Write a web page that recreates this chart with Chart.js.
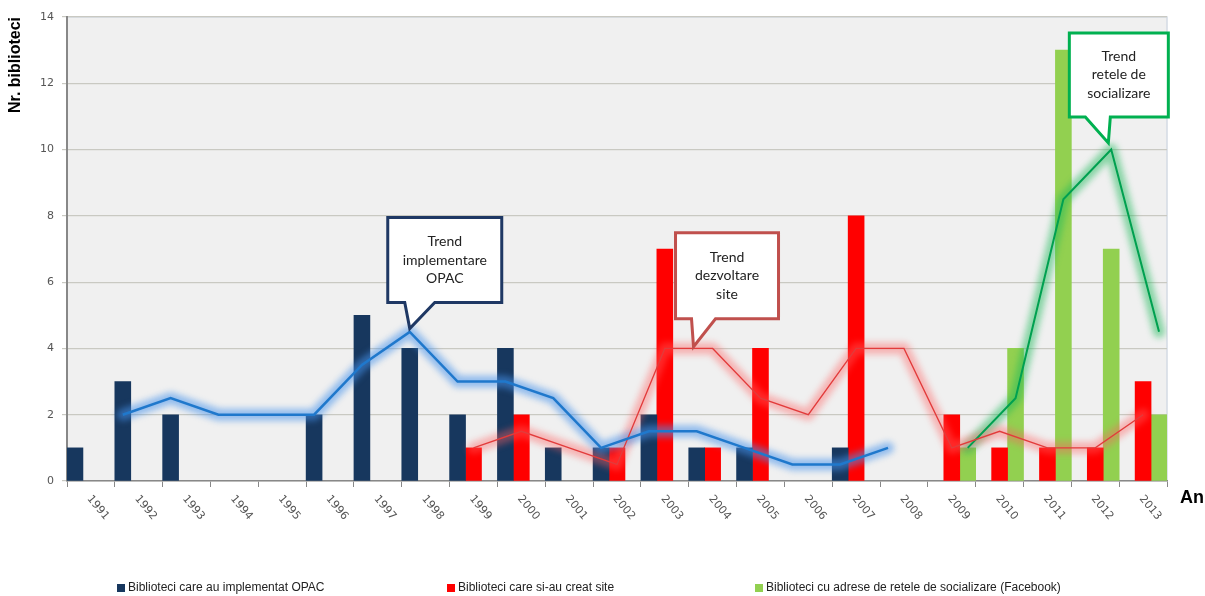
<!DOCTYPE html>
<html>
<head>
<meta charset="utf-8">
<script src="https://cdn.jsdelivr.net/npm/chart.js@4.4.1/dist/chart.umd.min.js"></script>
<style>
  html, body { margin: 0; padding: 0; background: #fff; }
  #wrap { width: 1205px; height: 596px; }
</style>
</head>
<body>
<div id="wrap"><canvas id="myChart" width="1205" height="596"></canvas></div>
<script>
// date (null = fara bara)
const years = ["1991","1992","1993","1994","1995","1996","1997","1998","1999","2000","2001","2002",
  "2003","2004","2005","2006","2007","2008","2009","2010","2011","2012","2013"];
const opac   = [1,3,2,null,null,2,5,4,2,4,1,1,2,1,1,null,1,null,null,null,null,null,null];
const site   = [null,null,null,null,null,null,null,null,1,2,null,1,7,1,4,null,8,null,2,1,1,1,3];
const social = [null,null,null,null,null,null,null,null,null,null,null,null,null,null,null,null,null,null,1,4,13,7,2];
// trend (medie mobila) citit de pe linii
const opacTrend   = [null,2,2.5,2,2,2,3.5,4.5,3,3,2.5,1,1.5,1.5,1,0.5,0.5,1,null,null,null,null,null];
const siteTrend   = [null,null,null,null,null,null,null,null,1,1.5,1,0.5,4,4,2.5,2,4,4,1,1.5,1,1,2];
const socialTrend = [null,null,null,null,null,null,null,null,null,null,null,null,null,null,null,null,null,null,1,2.5,8.5,10,4.5];
const yTicks = [0,2,4,6,8,10,12,14];
const legendLabels = ["Biblioteci care au implementat OPAC", "Biblioteci care si-au creat site",
  "Biblioteci cu adrese de retele de socializare (Facebook)"];
const calloutTexts = [["Trend","implementare","OPAC"], ["Trend","dezvoltare","site"], ["Trend","retele de","socializare"]];

const navy = "#17375E", red = "#FF0000", green = "#92D050";

// fiecare serie sta in treimea ei din categorie (stanga / mijloc / dreapta)
function points(arr, off) {
  const pts = [];
  arr.forEach((v, i) => { if (v !== null) pts.push({ x: i + off, y: v }); });
  return pts;
}

function barSet(label, data, color) {
  return { type: "bar", label: label, data: data, xAxisID: "x2", yAxisID: "y", backgroundColor: color, order: 10,
    grouped: false, categoryPercentage: 1, barPercentage: 1, borderWidth: 0 };
}
function glowSet(data, color) {
  return { type: "line", data: data, xAxisID: "x2", yAxisID: "y", borderColor: color, borderWidth: 12,
    pointRadius: 0, tension: 0, fill: false, order: 5, glow: true, borderJoinStyle: "round", borderCapStyle: "round" };
}
function lineSet(data, color, w) {
  return { type: "line", data: data, xAxisID: "x2", yAxisID: "y", borderColor: color, borderWidth: w,
    pointRadius: 0, tension: 0, fill: false, order: 1 };
}

const callouts = [
  { text: calloutTexts[0], tip: [7 - 1/3, 4.6], box: [-22, 92, -111, -26], base: [-5, 25], color: "#1F3864" },
  { text: calloutTexts[1], tip: [12.6, 4.05], box: [-18, 85, -114, -28], base: [-2, 22], color: "#C0504D" },
  { text: calloutTexts[2], tip: [21 + 1/3 - 0.06, 10.2], box: [-39, 60, -110, -26], base: [-23, 2], color: "#00B050" }
];

const decor = {
  id: "decor",
  beforeDraw(chart) {
    const { ctx, chartArea: a } = chart;
    ctx.save();
    ctx.fillStyle = "#fff";
    ctx.fillRect(0, 0, chart.width, chart.height);
    ctx.fillStyle = "#F0F0F0";
    ctx.fillRect(a.left, a.top, a.right - a.left, a.bottom - a.top);
    ctx.strokeStyle = "#D3DAE3";
    ctx.lineWidth = 1.5;
    ctx.beginPath();
    ctx.moveTo(a.left, a.top); ctx.lineTo(a.right, a.top); ctx.lineTo(a.right, a.bottom);
    ctx.stroke();
    ctx.restore();
  },
  beforeDatasetDraw(chart, args) {
    const ds = chart.data.datasets[args.index];
    if (ds.glow) {
      chart.ctx.save();
      chart.ctx.filter = "blur(3px)";
    }
  },
  afterDatasetDraw(chart, args) {
    const ds = chart.data.datasets[args.index];
    if (ds.glow) chart.ctx.restore();
  },
  afterDraw(chart) {
    const { ctx, chartArea: a } = chart;
    const xs = chart.scales.x, x2 = chart.scales.x2, ys = chart.scales.y;
    ctx.save();
    // etichete ani
    ctx.font = "11px 'DejaVu Sans'";
    ctx.fillStyle = "#555";
    ctx.textAlign = "left";
    ctx.textBaseline = "middle";
    years.forEach((y, i) => {
      const cx = xs.getPixelForValue(i);
      ctx.save();
      ctx.translate(cx - 2, a.bottom + 16);
      ctx.rotate(50 * Math.PI / 180);
      ctx.fillText(y, 0, 0);
      ctx.restore();
    });
    // titlu axa X
    ctx.font = "bold 18px 'Liberation Sans'";
    ctx.fillStyle = "#000";
    ctx.fillText("An", a.right + 13, a.bottom + 17);

    // callout-uri
    callouts.forEach(c => {
      const tx = x2.getPixelForValue(c.tip[0]);
      const ty = ys.getPixelForValue(c.tip[1]);
      const l = tx + c.box[0], r = tx + c.box[1], t = ty + c.box[2], b = ty + c.box[3];
      ctx.beginPath();
      ctx.moveTo(l, t); ctx.lineTo(r, t); ctx.lineTo(r, b);
      ctx.lineTo(tx + c.base[1], b); ctx.lineTo(tx, ty); ctx.lineTo(tx + c.base[0], b);
      ctx.lineTo(l, b); ctx.closePath();
      ctx.fillStyle = "#fff";
      ctx.fill();
      ctx.lineWidth = 3;
      ctx.lineJoin = "miter";
      ctx.strokeStyle = c.color;
      ctx.stroke();
      ctx.fillStyle = "#222";
      ctx.font = "14px Lato";
      ctx.textAlign = "center";
      ctx.textBaseline = "middle";
      const cxm = (l + r) / 2, cym = (t + b) / 2;
      c.text.forEach((s, k) => ctx.fillText(s, cxm, cym + (k - 1) * 18.5));
    });

    // legenda
    const cols = [navy, red, green];
    const lx = [117, 447, 755];
    ctx.font = "12px 'Liberation Sans'";
    ctx.textAlign = "left";
    ctx.textBaseline = "middle";
    legendLabels.forEach((s, k) => {
      ctx.fillStyle = cols[k];
      ctx.fillRect(lx[k], 584, 8, 8);
      ctx.fillStyle = "#222";
      ctx.fillText(s, lx[k] + 11, 588);
    });
    ctx.restore();
  }
};

const ctx = document.getElementById("myChart").getContext("2d");
const myChart = new Chart(ctx, {
  type: "bar",
  data: {
    labels: years,
    datasets: [
      barSet(legendLabels[0], points(opac, -1/3), navy),
      barSet(legendLabels[1], points(site, 0), red),
      barSet(legendLabels[2], points(social, 1/3), green),
      glowSet(points(opacTrend, -1/3), "rgba(70,145,235,0.55)"),
      glowSet(points(siteTrend, 0), "rgba(255,95,95,0.42)"),
      glowSet(points(socialTrend, 1/3), "rgba(30,185,90,0.5)"),
      lineSet(points(opacTrend, -1/3), "#1F78CC", 2.5),
      lineSet(points(siteTrend, 0), "#E23B3B", 1.3),
      lineSet(points(socialTrend, 1/3), "#00A050", 2)
    ]
  },
  options: {
    responsive: false,
    animation: false,
    layout: { padding: { top: 17, right: 38, left: 0, bottom: 0 } },
    plugins: { legend: { display: false }, tooltip: { enabled: false } },
    scales: {
      x: {
        type: "category",
        labels: years,
        offset: true,
        grid: { offset: true, drawOnChartArea: false, drawTicks: true, tickLength: 6, color: "#888" },
        border: { color: "#888", width: 1.5 },
        ticks: { display: false },
        afterFit(s) { s.height = 115; }
      },
      x2: { type: "linear", display: false, min: -0.5, max: 22.5, offset: false },
      y: {
        min: 0, max: 14,
        afterBuildTicks(s) { s.ticks = yTicks.map(v => ({ value: v })); },
        grid: { color: "#C9C9C2", lineWidth: 1.2, tickLength: 5 },
        border: { color: "#888", width: 2 },
        ticks: { font: { family: "DejaVu Sans", size: 11 }, color: "#555", padding: 8 },
        title: { display: true, text: "Nr. biblioteci", align: "end", color: "#000",
          font: { family: "Liberation Sans", size: 16, weight: "bold" }, padding: { top: 6, bottom: 0 } },
        afterFit(s) { s.width = 67; }
      }
    }
  },
  plugins: [decor]
});
</script>
</body>
</html>
